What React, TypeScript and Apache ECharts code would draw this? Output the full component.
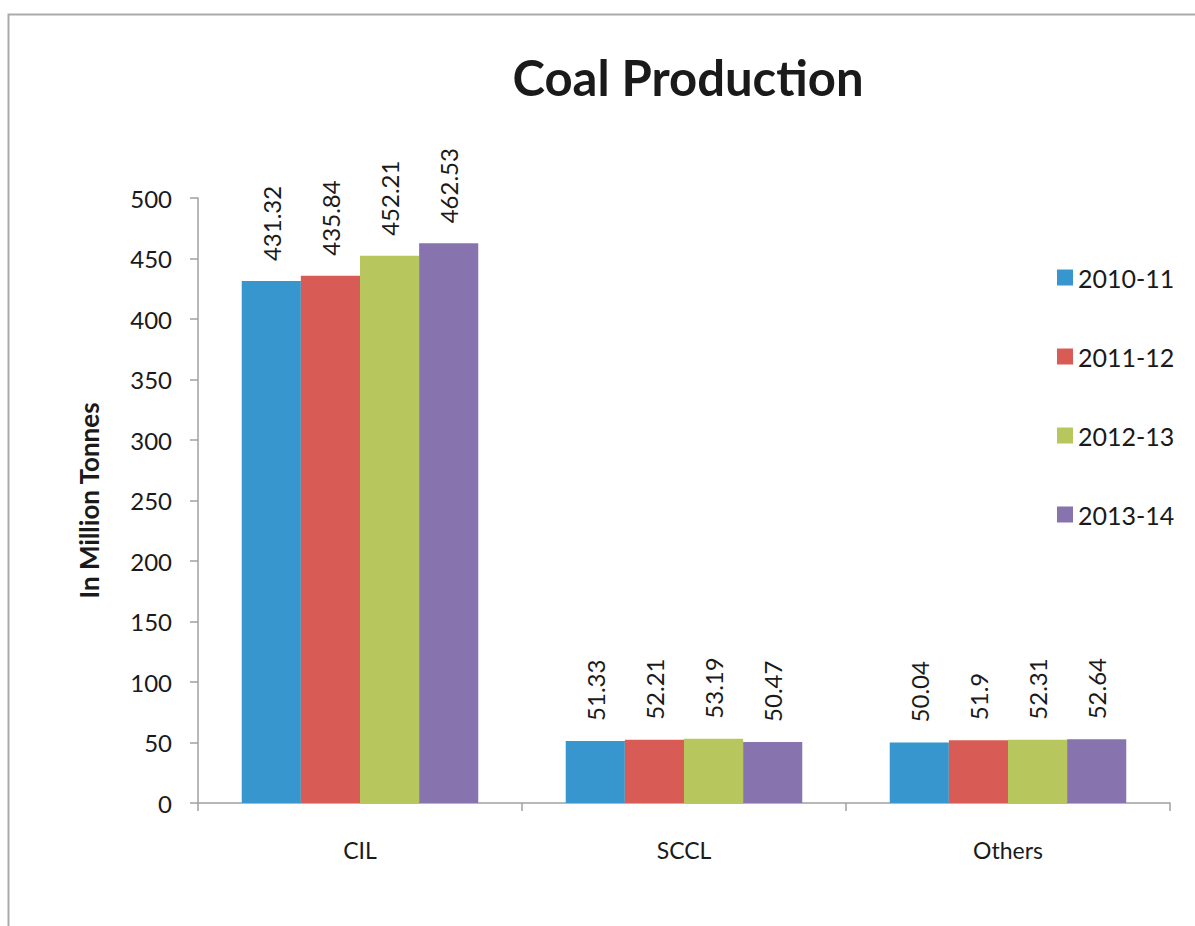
import React, { useEffect, useRef } from "react";
import * as echarts from "echarts";

const categories = ["CIL", "SCCL", "Others"];
const seriesNames = ["2010-11", "2011-12", "2012-13", "2013-14"];
const values2010 = [431.32, 51.33, 50.04];
const values2011 = [435.84, 52.21, 51.9];
const values2012 = [452.21, 53.19, 52.31];
const values2013 = [462.53, 50.47, 52.64];
const colors = ["#3796CE", "#D95B56", "#B8C65E", "#8773AE"];

const FONT = "Lato";

export default function App() {
  const ref = useRef<HTMLDivElement>(null);
  useEffect(() => {
    if (!ref.current) return;
    const chart = echarts.init(ref.current, undefined, { renderer: "svg" });
    const data = [values2010, values2011, values2012, values2013];
    chart.setOption({
      animation: false,
      backgroundColor: "#ffffff",
      textStyle: { fontFamily: FONT },
      title: {
        text: "Coal Production",
        left: 683,
        top: 47,
        textAlign: "center",
        textStyle: { fontFamily: FONT, fontSize: 49, fontWeight: "bold", color: "#1a1a1a" },
      },
      graphic: [
        {
          type: "rect",
          shape: { x: 8.5, y: 14.5, width: 1300, height: 1100 },
          style: { fill: "none", stroke: "#ABABAB", lineWidth: 2 },
          silent: true,
          z: -1,
        },
      ],
      legend: {
        orient: "vertical",
        left: 1052,
        top: 260,
        itemWidth: 16,
        itemHeight: 16,
        itemGap: 54,
        icon: "rect",
        textStyle: { fontFamily: FONT, fontSize: 25, color: "#1a1a1a", lineHeight: 25 },
        data: seriesNames,
      },
      grid: { left: 198, top: 198, right: 25, bottom: 123, containLabel: false },
      xAxis: {
        type: "category",
        data: categories,
        axisLine: { lineStyle: { color: "#A0A0A0", width: 1.5 } },
        axisTick: { show: true, length: 8, lineStyle: { color: "#A0A0A0", width: 1.5 } },
        axisLabel: { fontFamily: FONT, fontSize: 23, color: "#1a1a1a", margin: 35 },
      },
      yAxis: {
        type: "value",
        min: 0,
        max: 500,
        interval: 50,
        name: "In Million Tonnes",
        nameLocation: "middle",
        nameRotate: 90,
        nameGap: 96,
        nameTextStyle: { fontFamily: FONT, fontSize: 26, fontWeight: "bold", color: "#1a1a1a" },
        axisLine: { show: true, lineStyle: { color: "#A0A0A0", width: 1.5 } },
        axisTick: { show: true, length: 8, lineStyle: { color: "#A0A0A0", width: 1.5 } },
        splitLine: { show: false },
        axisLabel: { fontFamily: FONT, fontSize: 24, color: "#1a1a1a", margin: 26 },
      },
      series: seriesNames.map((name, i) => ({
        name,
        type: "bar",
        data: data[i],
        barGap: "0%",
        barCategoryGap: "27%",
        itemStyle: { color: colors[i] },
        label: {
          show: true,
          position: "top",
          rotate: 90,
          align: "left",
          verticalAlign: "middle",
          distance: 20,
          fontFamily: FONT,
          fontSize: 24,
          color: "#1a1a1a",
        },
      })),
    });
    return () => chart.dispose();
  }, []);
  return (
    <div
      ref={ref}
      style={{ position: "fixed", left: 0, top: 0, width: 1195, height: 926 }}
    />
  );
}
